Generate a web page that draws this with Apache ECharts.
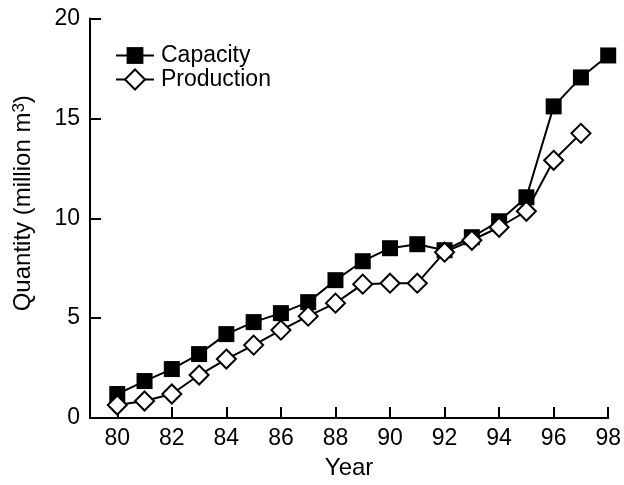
<!DOCTYPE html>
<html>
<head>
<meta charset="utf-8">
<style>
  html, body { margin: 0; padding: 0; background: #fff; }
  #chart { width: 624px; height: 485px; }
</style>
<script src="https://cdn.jsdelivr.net/npm/echarts@6/dist/echarts.min.js"></script>
</head>
<body>
<div id="chart"></div>
<script>
// Years (19xx) and yearly quantities in million m3
const years = [80, 81, 82, 83, 84, 85, 86, 87, 88, 89, 90, 91, 92, 93, 94, 95, 96, 97, 98];
const capacity = [1.2, 1.85, 2.45, 3.2, 4.2, 4.8, 5.25, 5.8, 6.9, 7.85, 8.5, 8.7, 8.4, 9.05, 9.85, 11.05, 15.6, 17.05, 18.15];
const production = [0.65, 0.85, 1.2, 2.15, 2.95, 3.65, 4.4, 5.1, 5.75, 6.7, 6.75, 6.75, 8.3, 8.9, 9.55, 10.35, 12.9, 14.25];
const yearTicks = [80, 82, 84, 86, 88, 90, 92, 94, 96, 98];

const FONT = '"Liberation Sans", Arial, Helvetica, sans-serif';
const INK = '#000';

const pairs = (xs, ys) => ys.map((v, i) => [xs[i], v]);

const chart = echarts.init(document.getElementById('chart'), null, { renderer: 'canvas' });

const axisCommon = {
  axisLine: { show: true, onZero: false, lineStyle: { color: INK, width: 2 } },
  axisTick: { show: true, inside: true, length: 11, lineStyle: { color: INK, width: 2 } },
  splitLine: { show: false },
  axisLabel: { color: INK, fontFamily: FONT, fontSize: 23 }
};

const legendText = { color: INK, fontFamily: FONT, fontSize: 23, padding: [0, 0, 0, 2] };

chart.setOption({
  animation: false,
  backgroundColor: '#fff',
  grid: { left: 90, right: 12, top: 18.5, bottom: 62, containLabel: false },
  legend: [
    {
      data: ['Capacity'],
      orient: 'vertical',
      left: 115, top: 44,
      padding: 0,
      itemWidth: 38, itemHeight: 21,
      textStyle: legendText
    },
    {
      data: ['Production'],
      orient: 'vertical',
      left: 115, top: 68,
      padding: 0,
      itemWidth: 38, itemHeight: 25,
      textStyle: legendText
    }
  ],
  xAxis: Object.assign({}, axisCommon, {
    type: 'value',
    min: 79, max: 98,
    name: 'Year',
    nameLocation: 'middle',
    nameGap: 38,
    nameTextStyle: { color: INK, fontFamily: FONT, fontSize: 24 },
    axisTick: Object.assign({}, axisCommon.axisTick, { customValues: yearTicks }),
    axisLabel: Object.assign({}, axisCommon.axisLabel, { customValues: yearTicks, margin: 9 })
  }),
  yAxis: Object.assign({}, axisCommon, {
    type: 'value',
    min: 0, max: 20, interval: 5,
    name: '{t|Quantity (million m}{s|3}{t|)}',
    nameLocation: 'middle',
    nameGap: 55,
    nameTextStyle: {
      color: INK, fontFamily: FONT, fontSize: 24,
      padding: [0, 0, 0, 30],
      rich: {
        t: { color: INK, fontFamily: FONT, fontSize: 24 },
        s: { color: INK, fontFamily: FONT, fontSize: 17, verticalAlign: 'top' }
      }
    },
    axisLabel: Object.assign({}, axisCommon.axisLabel, { margin: 10 })
  }),
  series: [
    {
      name: 'Capacity',
      type: 'line',
      data: pairs(years, capacity),
      symbol: 'rect',
      symbolSize: 16,
      lineStyle: { color: INK, width: 2 },
      itemStyle: { color: INK, borderColor: INK, borderWidth: 0 }
    },
    {
      name: 'Production',
      type: 'line',
      data: pairs(years, production),
      symbol: 'diamond',
      symbolSize: 19,
      showAllSymbol: true,
      lineStyle: { color: INK, width: 2 },
      itemStyle: { color: '#fff', borderColor: INK, borderWidth: 2 }
    }
  ]
});
</script>
</body>
</html>
